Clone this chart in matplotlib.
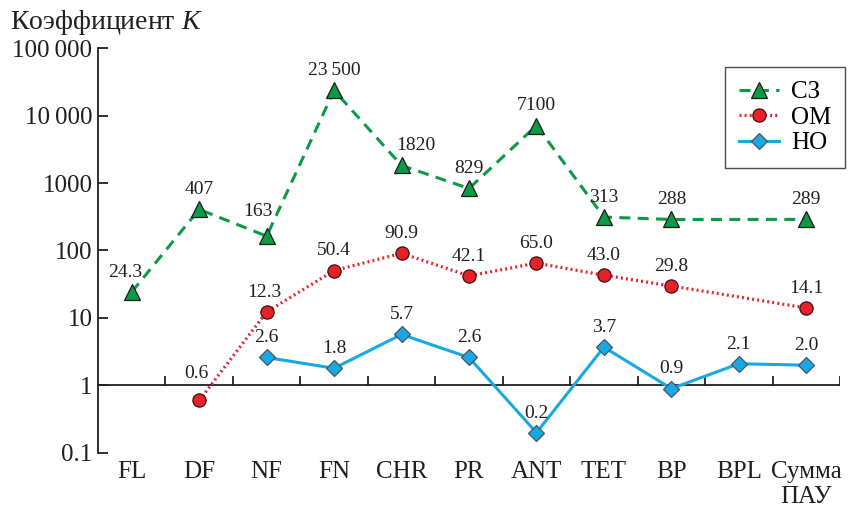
import numpy as np
import matplotlib
matplotlib.use("Agg")
import matplotlib.pyplot as plt
from matplotlib.lines import Line2D

plt.rcParams['font.family'] = ['Liberation Serif', 'DejaVu Serif']
plt.rcParams['mathtext.fontset'] = 'custom'
plt.rcParams['mathtext.it'] = 'Liberation Serif:italic'

categories = ["FL", "DF", "NF", "FN", "CHR", "PR", "ANT", "TET", "BP", "BPL", "Сумма\nПАУ"]
sz_values = [24.3, 407, 163, 23500, 1820, 829, 7100, 313, 288, None, 289]
om_values = [None, 0.6, 12.3, 50.4, 90.9, 42.1, 65.0, 43.0, 29.8, None, 14.1]
no_values = [None, None, 2.6, 1.8, 5.7, 2.6, 0.2, 3.7, 0.9, 2.1, 2.0]
series_names = ["СЗ", "ОМ", "НО"]
ytick_values = [0.1, 1, 10, 100, 1000, 10000, 100000]
ytick_labels = ["0.1", "1", "10", "100", "1000", "10\u2009000", "100\u2009000"]

green = "#0d9a46"
red = "#e8202a"
blue = "#18a8e4"
ink = "#231f20"

# nudges (in points) for value labels that would otherwise sit on a line
label_nudge = {
    (0, 0): (-5, 0),
    (0, 2): (-6.5, 4),
    (0, 4): (10, 0),
    (1, 1): (-2, 5),
    (1, 2): (-2, 0),
}


def fmt(v):
    if v >= 10000:
        return f"{int(round(v)):,}".replace(",", "\u2009")
    if v >= 100:
        return f"{int(round(v))}"
    return f"{v:.1f}"


fig = plt.figure(figsize=(8.62, 5.14), dpi=100)
ax = fig.add_axes([0.1137, 0.1187, 0.8608, 0.7879])
ax.set_yscale('log')
ax.set_ylim(0.1, 100000)
ax.set_xlim(-0.5, len(categories) - 0.5)

x = np.arange(len(categories))

styles = [
    dict(color=green, lw=2.2, ls=(0, (3.6, 2.4)), marker='^', ms=11,
         mfc=green, mec='#1a1a1a', mew=0.9),
    dict(color=red, lw=2.3, ls=(0, (0.6, 1.0)), marker='o', ms=9.5,
         mfc=red, mec='#3a1010', mew=0.9),
    dict(color=blue, lw=2.2, ls='-', marker='D', ms=8,
         mfc=blue, mec='#4a5560', mew=0.9),
]


def draw(k, values, style):
    xs = [i for i, v in enumerate(values) if v is not None]
    ys = [v for v in values if v is not None]
    ax.plot(xs, ys, zorder=3, **style)
    for xi, yi in zip(xs, ys):
        dx, dy = label_nudge.get((k, xi), (0, 0))
        ax.annotate(fmt(yi), (xi, yi), xytext=(dx, 8 + dy),
                    textcoords='offset points',
                    ha='center', va='bottom', fontsize=14, color=ink)


for k, (vals, st) in enumerate(zip([sz_values, om_values, no_values], styles)):
    draw(k, vals, st)

# only the left axis is kept; the horizontal axis runs along K = 1
for s in ['top', 'right', 'bottom']:
    ax.spines[s].set_visible(False)
ax.spines['left'].set_linewidth(1.3)
ax.spines['left'].set_color(ink)
ax.axhline(1, color=ink, lw=1.3, zorder=1)
for b in np.arange(0.5, len(categories), 1.0):
    ax.plot([b, b], [1, 1.33], color=ink, lw=1.3, zorder=1)

ax.set_yticks(ytick_values)
ax.set_yticklabels(ytick_labels)
ax.yaxis.set_minor_locator(matplotlib.ticker.NullLocator())
ax.tick_params(axis='y', direction='in', length=7, width=1.3, color=ink,
               labelsize=18, labelcolor=ink, pad=4)
ax.set_xticks(x)
ax.set_xticklabels(categories)
ax.tick_params(axis='x', length=0, labelsize=18, labelcolor=ink, pad=6)
for lbl in ax.get_xticklabels():
    lbl.set_linespacing(1.15)

fig.text(0.012, 0.985, "Коэффициент $K$", fontsize=20, color=ink,
         ha='left', va='top')

handles = [Line2D([], [], **st) for st in styles]
leg = ax.legend(handles, series_names, loc='upper right',
                bbox_to_anchor=(1.007, 0.953), fontsize=18, frameon=True,
                fancybox=False, edgecolor=ink, handlelength=1.6,
                handletextpad=0.5, labelspacing=0.12, borderpad=0.55,
                borderaxespad=0)
leg.get_frame().set_linewidth(1.0)

fig.savefig("out.png", dpi=100)
